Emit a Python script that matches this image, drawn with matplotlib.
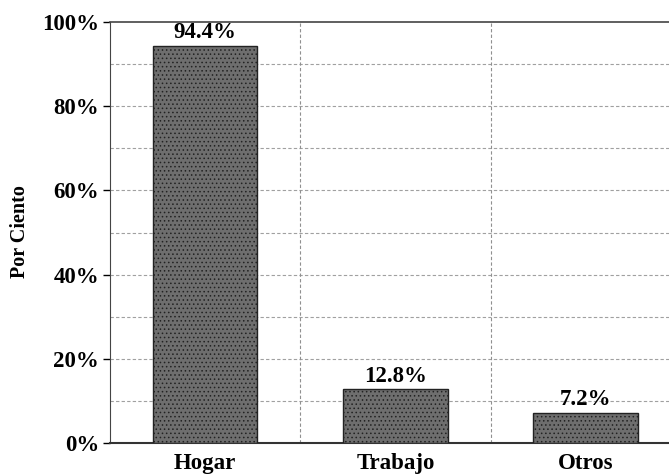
import matplotlib
matplotlib.use("Agg")
import matplotlib.pyplot as plt
import numpy as np

categories = ["Hogar", "Trabajo", "Otros"]
values = [94.4, 12.8, 7.2]
value_labels = ["94.4%", "12.8%", "7.2%"]
yticks = [0, 20, 40, 60, 80, 100]
ytick_labels = ["0%", "20%", "40%", "60%", "80%", "100%"]

plt.rcParams['font.family'] = ['Liberation Serif', 'DejaVu Serif']
plt.rcParams['font.weight'] = 'bold'
plt.rcParams['hatch.color'] = '#a8a8a8'
plt.rcParams['hatch.linewidth'] = 0.6

fig = plt.figure(figsize=(6.69, 4.75), dpi=100)
ax = fig.add_axes([110/669, 1-443/475, 1-110/669, (443-22)/475])

x = np.arange(len(categories))
bars = ax.bar(x, values, width=0.55, color='#6e6e6e', edgecolor='#222222',
              linewidth=1.0, hatch='....', zorder=3)

for xi, v, lab in zip(x, values, value_labels):
    ax.text(xi, v + 0.6, lab, ha='center', va='bottom', fontsize=16.5,
            fontweight='bold', zorder=4)

ax.set_xlim(-0.5, -0.5 + (669-110)/190.3)
ax.set_ylim(0, 100)
ax.set_yticks(yticks)
ax.set_yticklabels(ytick_labels, fontsize=16.5, fontweight='bold')
ax.set_xticks(x)
ax.set_xticklabels(categories, fontsize=16.5, fontweight='bold')
ax.tick_params(axis='x', length=0, pad=7)
ax.tick_params(axis='y', length=5, width=1, pad=3, direction='out')

for yv in range(10, 100, 10):
    ax.axhline(yv, color='#a0a0a0', linewidth=0.8, linestyle=(0, (3, 2)), zorder=1)
for xv in [0.5, 1.5]:
    ax.axvline(xv, color='#909090', linewidth=0.8, linestyle=(0, (3, 2)), zorder=1)

ax.spines['right'].set_visible(False)
ax.spines['top'].set_color('#444444')
ax.spines['top'].set_linewidth(1.2)
ax.spines['left'].set_color('#444444')
ax.spines['bottom'].set_color('#333333')
ax.spines['bottom'].set_linewidth(1.5)

fig.text(20/669, 1-232/475, "Por Ciento", rotation=90, ha='center', va='center',
         fontsize=14.5, fontweight='bold')

fig.savefig("out.png", dpi=100)
